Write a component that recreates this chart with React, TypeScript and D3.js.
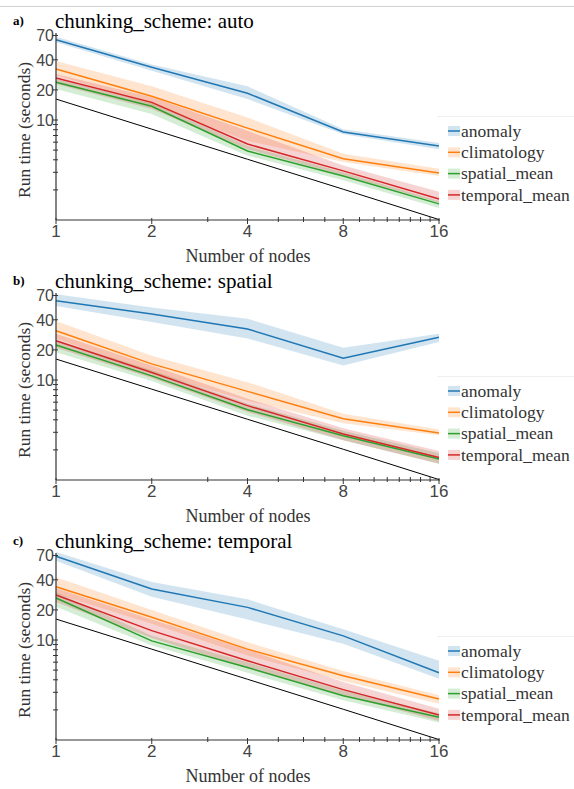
import * as d3 from "d3";

const nodes = [1, 2, 4, 8, 16];
const seriesNames = ["anomaly", "climatology", "spatial_mean", "temporal_mean"];
const seriesColors = ["#1f77b4", "#ff7f0e", "#2ca02c", "#d62728"];
const idealTime = [16.2, 8.1, 4.05, 2.03, 1.01];
const yTickValues = [10, 20, 40, 70];
const yMinorTicks = [2, 3, 4, 5, 6, 7, 8, 9];
const xMinorTicks = [3, 5, 6, 7, 9, 10, 11, 12, 13, 14, 15];

// panel a: auto
const autoMean = [
  [63.5, 33.7, 18.5, 7.6, 5.5],
  [32.4, 17.3, 8.3, 4.1, 2.95],
  [23.8, 13.7, 4.9, 2.75, 1.45],
  [26.3, 15.0, 5.75, 3.1, 1.62],
];
const autoLow = [
  [60, 31, 16.2, 7.2, 5.1],
  [28.2, 14.1, 6.2, 3.8, 2.75],
  [20.4, 11.5, 4.4, 2.5, 1.32],
  [22.9, 12.9, 5.1, 2.8, 1.5],
];
const autoHigh = [
  [68, 36, 21.7, 8.1, 5.9],
  [39, 21.7, 10.6, 4.6, 3.25],
  [25.7, 15, 5.5, 3.0, 1.55],
  [28.8, 16.9, 7.8, 3.5, 1.92],
];

// panel b: spatial
const spatialMean = [
  [62, 45.7, 32.4, 16.5, 26.7],
  [31.1, 14.5, 7.7, 4.1, 2.95],
  [22.4, 11.0, 5.05, 2.77, 1.62],
  [24.7, 11.9, 5.54, 2.88, 1.68],
];
const spatialLow = [
  [55, 38, 26, 14, 24],
  [26, 11.9, 6.2, 3.7, 2.8],
  [19, 9.8, 4.4, 2.5, 1.45],
  [21, 10.5, 4.8, 2.5, 1.45],
];
const spatialHigh = [
  [72, 53, 41, 21, 29],
  [39, 17.5, 9.5, 4.6, 3.2],
  [25, 12.5, 5.8, 3.1, 1.85],
  [29, 14, 6.5, 3.3, 1.95],
];

// panel c: temporal
const temporalMean = [
  [68.7, 32.4, 21.2, 11.0, 4.7],
  [34.1, 16.9, 8.1, 4.4, 2.57],
  [26.3, 9.8, 5.3, 2.77, 1.69],
  [28.2, 12.4, 6.2, 3.19, 1.78],
];
const temporalLow = [
  [62, 27, 16, 9.2, 4.1],
  [28.8, 14.5, 7, 3.9, 2.3],
  [21.5, 8.8, 4.7, 2.5, 1.5],
  [24, 10.5, 5.2, 2.8, 1.55],
];
const temporalHigh = [
  [76, 38, 25.5, 12.8, 6.2],
  [42.4, 20, 9.5, 4.9, 2.8],
  [30, 11, 6, 3.1, 1.85],
  [33, 16, 8, 3.8, 2.05],
];

const serif = "'Liberation Serif', 'Times New Roman', serif";
const sans = "'Liberation Sans', Arial, sans-serif";

const x = d3.scaleLog().base(2).domain([1, 16]).range([56, 439]);
const y = d3.scaleLog().domain([1, 70]).range([220, 35.5]);

function Panel({ top, label, scheme, mean, low, high }) {
  const line = d3
    .line<number>()
    .x((_, i) => x(nodes[i]))
    .y((d) => y(d));
  const area = (lo: number[], hi: number[]) =>
    d3
      .area<number>()
      .x((i) => x(nodes[i]))
      .y0((i) => y(lo[i]))
      .y1((i) => y(hi[i]))(d3.range(nodes.length));
  return (
    <g transform={`translate(0,${top})`}>
      <text x={13} y={25} fontFamily={serif} fontWeight="bold" fontSize={13}>
        {label}
      </text>
      <text x={55} y={28} fontFamily={serif} fontSize={21}>
        chunking_scheme: {scheme}
      </text>
      {/* bands */}
      {seriesNames.map((name, s) => (
        <path
          key={name}
          d={area(low[s], high[s])}
          fill={seriesColors[s]}
          fillOpacity={0.2}
        />
      ))}
      <path d={line(idealTime)} fill="none" stroke="#000" strokeWidth={1} />
      {seriesNames.map((name, s) => (
        <path
          key={name}
          d={line(mean[s])}
          fill="none"
          stroke={seriesColors[s]}
          strokeWidth={1.5}
        />
      ))}
      {/* axes */}
      <line x1={56} x2={56} y1={33} y2={220} stroke="#333" strokeWidth={1.2} />
      <line x1={56} x2={440} y1={220} y2={220} stroke="#333" strokeWidth={1.2} />
      {yTickValues.map((v) => (
        <g key={v}>
          <line x1={52} x2={58} y1={y(v)} y2={y(v)} stroke="#333" />
          <text
            x={54}
            y={y(v)}
            dy="0.36em"
            textAnchor="end"
            fontFamily={sans}
            fontSize={16}
            fill="#444"
          >
            {v}
          </text>
        </g>
      ))}
      {yMinorTicks.map((v) => (
        <line key={v} x1={53} x2={58} y1={y(v)} y2={y(v)} stroke="#333" />
      ))}
      {nodes.map((n) => (
        <g key={n}>
          <line x1={x(n)} x2={x(n)} y1={218} y2={224} stroke="#333" />
          <text
            x={x(n)}
            y={237}
            textAnchor="middle"
            fontFamily={sans}
            fontSize={17}
            fill="#444"
          >
            {n}
          </text>
        </g>
      ))}
      {xMinorTicks.map((n) => (
        <line key={n} x1={x(n)} x2={x(n)} y1={217} y2={222} stroke="#333" />
      ))}
      <text
        transform="translate(30,130) rotate(-90)"
        textAnchor="middle"
        fontFamily={serif}
        fontSize={17.5}
        fill="#333"
      >
        Run time (seconds)
      </text>
      <text
        x={248}
        y={262}
        textAnchor="middle"
        fontFamily={serif}
        fontSize={18}
        fill="#333"
      >
        Number of nodes
      </text>
      {/* legend */}
      <line x1={437} x2={574} y1={116.5} y2={116.5} stroke="#f0f0f0" />
      {seriesNames.map((name, s) => {
        const ly = 131 + s * 21.3;
        return (
          <g key={name}>
            <rect
              x={448}
              y={ly - 5}
              width={12}
              height={10}
              fill={seriesColors[s]}
              fillOpacity={0.2}
            />
            <line
              x1={448}
              x2={460}
              y1={ly}
              y2={ly}
              stroke={seriesColors[s]}
              strokeWidth={1.5}
            />
            <text
              x={461}
              y={ly}
              dy="0.32em"
              fontFamily={serif}
              fontSize={17.5}
              fill="#333"
            >
              {name}
            </text>
          </g>
        );
      })}
    </g>
  );
}

export default function App() {
  return (
    <svg
      width={574}
      height={789}
      style={{ position: "absolute", left: 0, top: 0, background: "#fff" }}
    >
      <line x1={0} x2={574} y1={6.5} y2={6.5} stroke="#d0d0d0" />
      <Panel top={0} label="a)" scheme="auto" mean={autoMean} low={autoLow} high={autoHigh} />
      <Panel
        top={260}
        label="b)"
        scheme="spatial"
        mean={spatialMean}
        low={spatialLow}
        high={spatialHigh}
      />
      <Panel
        top={520}
        label="c)"
        scheme="temporal"
        mean={temporalMean}
        low={temporalLow}
        high={temporalHigh}
      />
    </svg>
  );
}
